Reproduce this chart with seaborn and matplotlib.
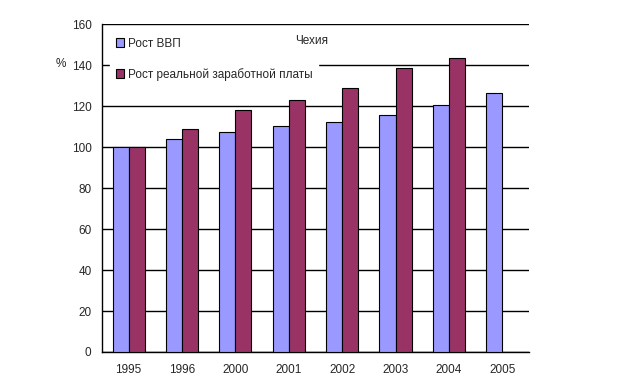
import matplotlib
matplotlib.use("Agg")
import matplotlib.pyplot as plt
import seaborn as sns
import pandas as pd
import numpy as np

years = ["1995", "1996", "2000", "2001", "2002", "2003", "2004", "2005"]
gdp_growth = [100, 104, 107.5, 110.5, 112, 115.8, 120.7, 126.5]
wage_growth = [100, 109, 118.2, 123, 128.6, 138.8, 143.5, np.nan]
series_names = ["Рост ВВП", "Рост реальной заработной платы"]

df = pd.DataFrame({
    "year": years * 2,
    "value": gdp_growth + wage_growth,
    "series": [series_names[0]] * len(years) + [series_names[1]] * len(years),
})

sns.set_style("white")
plt.rcParams["font.family"] = ["Liberation Sans", "DejaVu Sans"]

fig = plt.figure(figsize=(6.23, 3.88), dpi=100)
ax = fig.add_axes([0.1637, 0.0928, 0.849 - 0.1637, 0.938 - 0.0928])

sns.barplot(data=df, x="year", y="value", hue="series", order=years,
            hue_order=series_names, palette=["#9999FF", "#993366"],
            saturation=1, width=0.6, gap=0, edgecolor="black", linewidth=0.8,
            errorbar=None, ax=ax, zorder=3)

ax.set_ylim(0, 160)
ax.set_xlim(-0.5, len(years) - 0.5)
ax.set_yticks(range(0, 161, 20))
ax.yaxis.grid(True, color="black", linewidth=1)
ax.set_axisbelow(True)
for side in ["top", "right"]:
    ax.spines[side].set_visible(False)
for side in ["left", "bottom"]:
    ax.spines[side].set_color("black")
    ax.spines[side].set_linewidth(1)

ax.set_xticks(np.arange(len(years) + 1) - 0.5, minor=True)
ax.tick_params(axis="x", which="minor", length=4, direction="out", color="black", width=1)
ax.tick_params(axis="x", which="major", length=0, labelsize=8.5, pad=9)
ax.tick_params(axis="y", length=4, direction="out", color="black", width=1, labelsize=8.5)
ax.set_xlabel("")
ax.set_ylabel("")

handles, labels = ax.get_legend_handles_labels()
leg = ax.legend(handles, labels, loc="upper left", bbox_to_anchor=(0.005, 0.995),
                frameon=True, fontsize=8.5, labelspacing=1.55, handlelength=0.7,
                handleheight=0.7, handletextpad=0.3, borderpad=0.5, fancybox=False)
leg.get_frame().set_facecolor("white")
leg.get_frame().set_edgecolor("white")
leg.get_frame().set_alpha(1)

fig.text(0.097, 0.835, "%", fontsize=8.5, ha="center", va="center")
fig.text(0.50, 0.895, "Чехия", fontsize=8.5, ha="center", va="center", zorder=10)

fig.savefig("out.png", dpi=100)
